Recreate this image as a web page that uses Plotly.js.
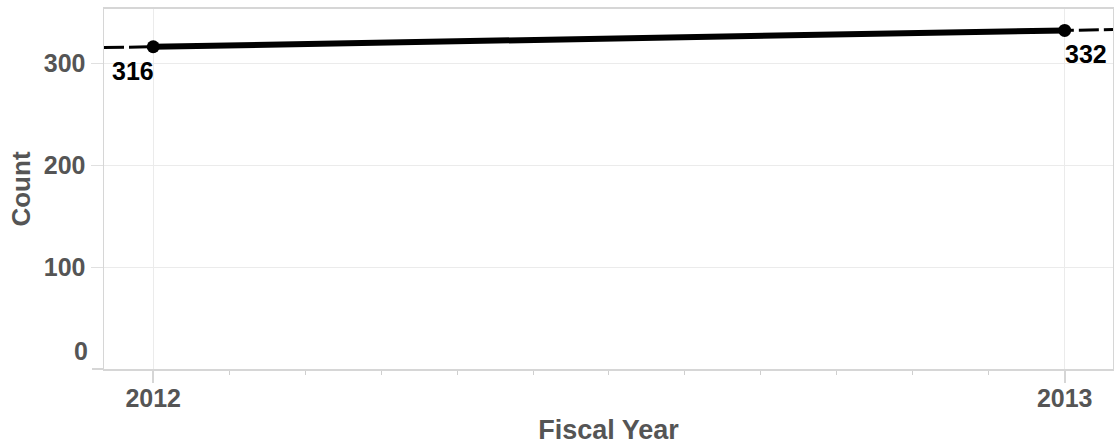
<!DOCTYPE html>
<html>
<head>
<meta charset="utf-8">
<script src="https://cdn.plot.ly/plotly-3.0.1.min.js"></script>
<style>html,body{margin:0;padding:0;background:#fff;}#chart{width:1114px;height:445px;}</style>
</head>
<body>
<div id="chart"></div>
<script>
// ---- data ----
const years = [2012, 2013];
const counts = [316, 332];
const yTickVals = [100, 200, 300];
const labelAnchors = ['right', 'left'];

// ---- style / axis ranges ----
const xRange = [2011.946, 2013.053];
const yRange = [0, 353];
const FONT = 'Arial, "Liberation Sans", sans-serif';
const axisGray = '#555555';

// linear trend computed from data
const n = years.length;
const mx = years.reduce((a, b) => a + b, 0) / n;
const my = counts.reduce((a, b) => a + b, 0) / n;
let sxy = 0, sxx = 0;
for (let i = 0; i < n; i++) { sxy += (years[i] - mx) * (counts[i] - my); sxx += (years[i] - mx) ** 2; }
const slope = sxy / sxx;
const trendY = xRange.map(x => my + slope * (x - mx));

const traces = [
  {
    x: xRange, y: trendY, mode: 'lines', type: 'scatter',
    line: {color: '#000', width: 3, dash: '20px,5px'},
    hoverinfo: 'skip', showlegend: false
  },
  {
    x: years, y: counts, mode: 'lines+markers', type: 'scatter',
    line: {color: '#000', width: 6},
    marker: {color: '#000', size: 13},
    cliponaxis: false, showlegend: false
  }
];

const valueLabels = years.map((yr, i) => ({
  xref: 'x', yref: 'y', x: yr, y: counts[i],
  xanchor: labelAnchors[i], yanchor: 'top', yshift: -8, xshift: labelAnchors[i] === 'right' ? 3 : -2,
  text: String(counts[i]), showarrow: false,
  font: {family: FONT, size: 25, weight: 'bold', color: '#000'}
}));

const layout = {
  width: 1114, height: 445,
  margin: {l: 104, r: 1, t: 9, b: 76, pad: 0},
  paper_bgcolor: '#fff', plot_bgcolor: '#fff',
  hovermode: false, showlegend: false,
  font: {family: FONT},
  xaxis: {
    range: xRange, type: 'linear', tick0: 2012, dtick: 1, tickformat: 'd',
    ticks: 'outside', ticklen: 12, tickwidth: 2, tickcolor: '#d6d6d6',
    ticklabelstandoff: -6,
    showgrid: true, gridcolor: '#ebebeb', gridwidth: 1,
    showline: true, linecolor: '#d6d6d6', linewidth: 2, mirror: true,
    zeroline: false,
    tickfont: {family: FONT, size: 25, weight: 'bold', color: axisGray},
    minor: {tick0: 2012, dtick: 1/12, ticklen: 4, tickwidth: 1, tickcolor: '#cfcfcf', showgrid: false, ticks: 'outside'},
    title: {text: 'Fiscal Year', font: {family: FONT, size: 27, weight: 'bold', color: axisGray}, standoff: 10}
  },
  yaxis: {
    range: yRange, tickvals: yTickVals,
    ticks: 'outside', ticklen: 12, tickwidth: 1, tickcolor: '#e0e0e0',
    showgrid: true, gridcolor: '#ebebeb', gridwidth: 1,
    showline: true, linecolor: '#d6d6d6', linewidth: 1.5, mirror: true,
    zeroline: false,
    tickfont: {family: FONT, size: 25, weight: 'bold', color: axisGray},
    title: {text: 'Count', font: {family: FONT, size: 26, weight: 'bold', color: axisGray}, standoff: 5}
  },
  annotations: [{
    xref: 'paper', x: 0, xanchor: 'right', xshift: -14,
    yref: 'y', y: yRange[0], yanchor: 'bottom', yshift: 2,
    text: '0', showarrow: false,
    font: {family: FONT, size: 25, weight: 'bold', color: axisGray}
  }].concat(valueLabels),
  shapes: [{
    type: 'line', xref: 'paper', xsizemode: 'pixel', xanchor: 0, x0: -12, x1: 0,
    yref: 'paper', y0: 0, y1: 0, line: {color: '#d6d6d6', width: 2}
  }]
};

Plotly.newPlot('chart', traces, layout, {displayModeBar: false, staticPlot: true});
</script>
</body>
</html>
